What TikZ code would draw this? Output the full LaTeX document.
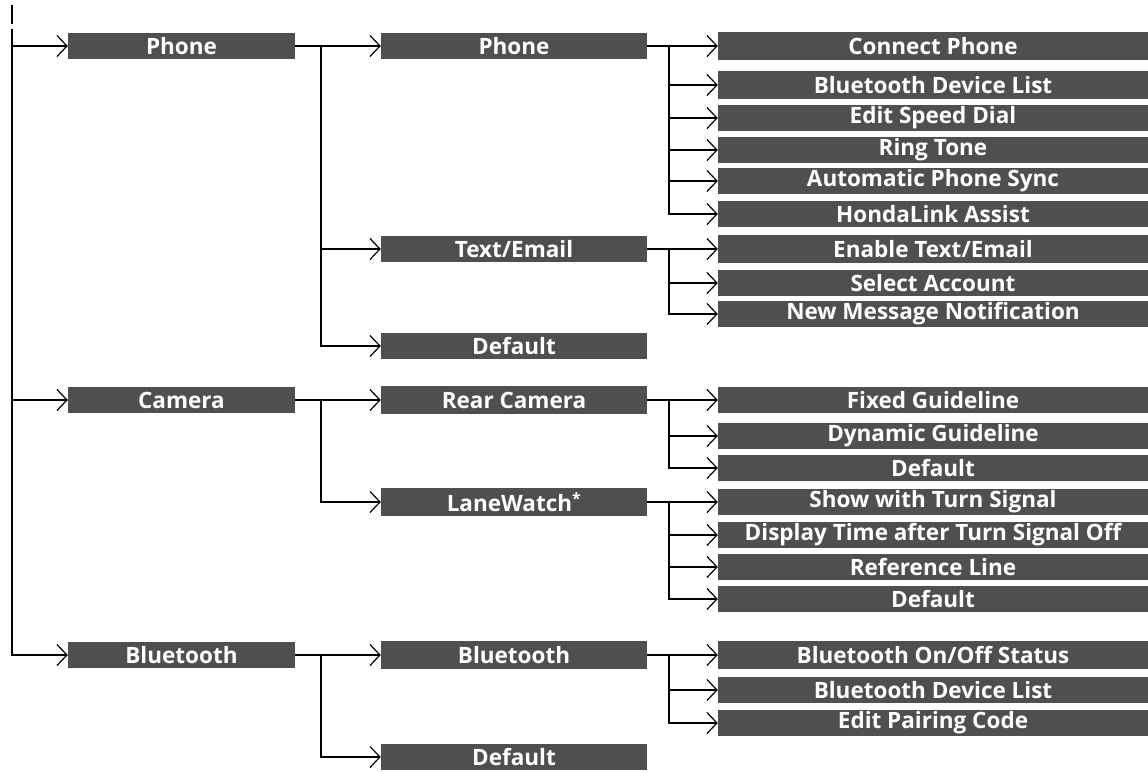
\documentclass[tikz,border=0pt]{standalone}
\usepackage{fontspec}
\setmainfont{Open Sans}
\usetikzlibrary{arrows.meta}
\definecolor{boxgray}{RGB}{79,79,79}
\begin{document}
\begin{tikzpicture}[x=1pt,y=-1pt,
  box/.style={fill=boxgray, text=white, font=\bfseries\fontsize{22.5}{25}\selectfont, inner sep=0pt, minimum height=26pt},
  bone/.style={box, minimum width=227pt},
  btwo/.style={box, minimum width=266pt},
  bthree/.style={box, minimum width=430pt},
  conn/.style={line width=2pt},
  arr/.style={conn, -{Straight Barb[length=10pt,width=21pt,line width=1.2pt]}}
]
\useasboundingbox (0,0) rectangle (1148,772);

% level 1
\node[bone] (p1) at (181.5,46) {Phone};
\node[bone] (c1) at (181.5,400) {Camera};
\node[bone] (bt1) at (181.5,655) {Bluetooth};

% level 2
\node[btwo] (p2) at (514,46) {Phone};
\node[btwo] (te2) at (514,249) {Text/Email};
\node[btwo] (d2a) at (514,346) {Default};
\node[btwo,minimum height=28pt] (rc2) at (514,400) {Rear Camera};
\node[btwo,minimum height=28pt] (lw2) at (514,502) {LaneWatch\textsuperscript{*}};
\node[btwo,minimum height=28pt] (bt2) at (514,655) {Bluetooth};
\node[btwo] (d2b) at (514,757) {Default};

% level 3
\node[bthree,minimum height=28pt] (cp3) at (933,46) {Connect Phone};
\node[bthree,minimum height=28pt] (bdl3) at (933,85) {Bluetooth Device List};
\node[bthree] (esd3) at (933,118) {Edit Speed Dial};
\node[bthree] (rt3) at (933,150) {Ring Tone};
\node[bthree] (aps3) at (933,181) {Automatic Phone Sync};
\node[bthree] (hla3) at (933,214) {HondaLink Assist};
\node[bthree,minimum height=28pt] (ete3) at (933,249) {Enable Text/Email};
\node[bthree] (sa3) at (933,283) {Select Account};
\node[bthree] (nmn3) at (933,314) {New Message Notification};
\node[bthree] (fg3) at (933,400) {Fixed Guideline};
\node[bthree] (dg3) at (933,436) {Dynamic Guideline};
\node[bthree] (rd3) at (933,468) {Default};
\node[bthree] (swt3) at (933,502) {Show with Turn Signal};
\node[bthree] (dt3) at (933,535) {Display Time after Turn Signal Off};
\node[bthree] (rl3) at (933,567) {Reference Line};
\node[bthree] (ld3) at (933,599) {Default};
\node[bthree,minimum height=28pt] (bos3) at (933,655) {Bluetooth On/Off Status};
\node[bthree] (bdl3b) at (933,690) {Bluetooth Device List};
\node[bthree] (epc3) at (933,723) {Edit Pairing Code};

% trunk
\coordinate (top) at (12,29);
\coordinate (ticka) at (12,5);
\coordinate (tickb) at (12,24);
\draw[line width=1.5pt] (ticka) -- (tickb);
\draw[arr] (top) |- (bt1.west);
\draw[arr] (top |- p1.west) -- (p1.west);
\draw[arr] (top |- c1.west) -- (c1.west);

% level 1 -> level 2
\draw[arr] (p1.east) -- (p2.west);
\draw[arr] ([xshift=26pt]p1.east) |- (te2.west);
\draw[arr] ([xshift=26pt]p1.east) |- (d2a.west);
\draw[arr] (c1.east) -- (rc2.west);
\draw[arr] ([xshift=26pt]c1.east) |- (lw2.west);
\draw[arr] (bt1.east) -- (bt2.west);
\draw[arr] ([xshift=26pt]bt1.east) |- (d2b.west);

% level 2 -> level 3
\draw[arr] (p2.east) -- (cp3.west);
\foreach \t in {bdl3,esd3,rt3,aps3,hla3}
  \draw[arr] ([xshift=22pt]p2.east) |- (\t.west);
\draw[arr] (te2.east) -- (ete3.west);
\foreach \t in {sa3,nmn3}
  \draw[arr] ([xshift=22pt]te2.east) |- (\t.west);
\draw[arr] (rc2.east) -- (fg3.west);
\foreach \t in {dg3,rd3}
  \draw[arr] ([xshift=22pt]rc2.east) |- (\t.west);
\draw[arr] (lw2.east) -- (swt3.west);
\foreach \t in {dt3,rl3,ld3}
  \draw[arr] ([xshift=22pt]lw2.east) |- (\t.west);
\draw[arr] (bt2.east) -- (bos3.west);
\foreach \t in {bdl3b,epc3}
  \draw[arr] ([xshift=22pt]bt2.east) |- (\t.west);
\end{tikzpicture}
\end{document}
